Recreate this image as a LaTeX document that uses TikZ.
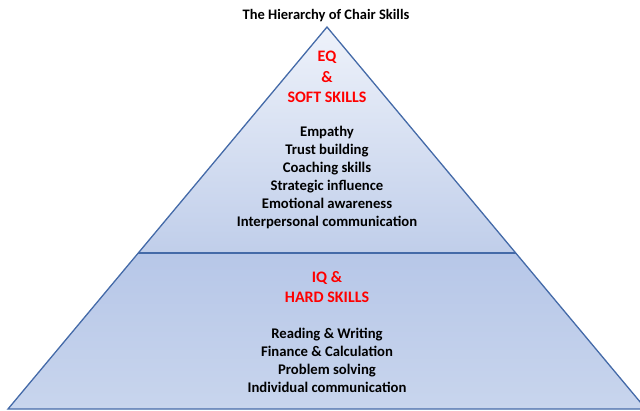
\documentclass[tikz,border=0pt]{standalone}
\usepackage{fontspec}
\setmainfont{Carlito}
\usepackage{xcolor}
\usepackage{tikz}
\definecolor{edgeblue}{RGB}{68,106,168}
\definecolor{pyrtop}{RGB}{238,242,250}
\definecolor{pyrmid}{RGB}{192,206,234}
\definecolor{pyrlow}{RGB}{183,199,232}
\definecolor{pyrdeep}{RGB}{158,179,224}
\definecolor{pyrbase}{RGB}{200,213,237}

\tikzset{
  heading/.style={text=red, font=\bfseries\fontsize{16}{20.5}\selectfont, align=center},
  skills/.style={text=black, font=\bfseries\fontsize{14.7}{18}\selectfont, align=center},
  edge/.style={draw=edgeblue, line width=1.3pt}
}

\begin{document}
\begin{tikzpicture}[x=1pt,y=-1pt]
\useasboundingbox (0,0) rectangle (640,410);
\clip (0,0) rectangle (640,410);
%corners
\coordinate (apex) at (327,27);
\coordinate (bl) at (8,409);
\coordinate (br) at (646,409);
\coordinate (ml) at (138,253);
\coordinate (mr) at (516,253);
%upper part
\shade[top color=pyrtop, bottom color=pyrmid] (apex) -- (ml) -- (mr) -- cycle;
%lower part
\shade[top color=pyrlow, middle color=pyrdeep, bottom color=pyrbase] (ml) -- (bl) -- (br) -- (mr) -- cycle;
%outline
\draw[edge, line join=miter] (apex) -- (bl) -- (br) -- cycle;
\draw[edge] (ml) -- (mr);
%texts
\node[font=\bfseries\fontsize{14.5}{17}\selectfont] (title) at (326,16) {The Hierarchy of Chair Skills};
\node[heading] (eq) at (327,77) {EQ\\\&\\SOFT SKILLS};
\node[skills] (soft) at (327,177) {Empathy\\Trust building\\Coaching skills\\Strategic influence\\Emotional awareness\\Interpersonal communication};
\node[heading] (iq) at (327,287) {IQ \&\\HARD SKILLS};
\node[skills] (hard) at (327,360) {Reading \& Writing\\Finance \& Calculation\\Problem solving\\Individual communication};
\end{tikzpicture}
\end{document}
